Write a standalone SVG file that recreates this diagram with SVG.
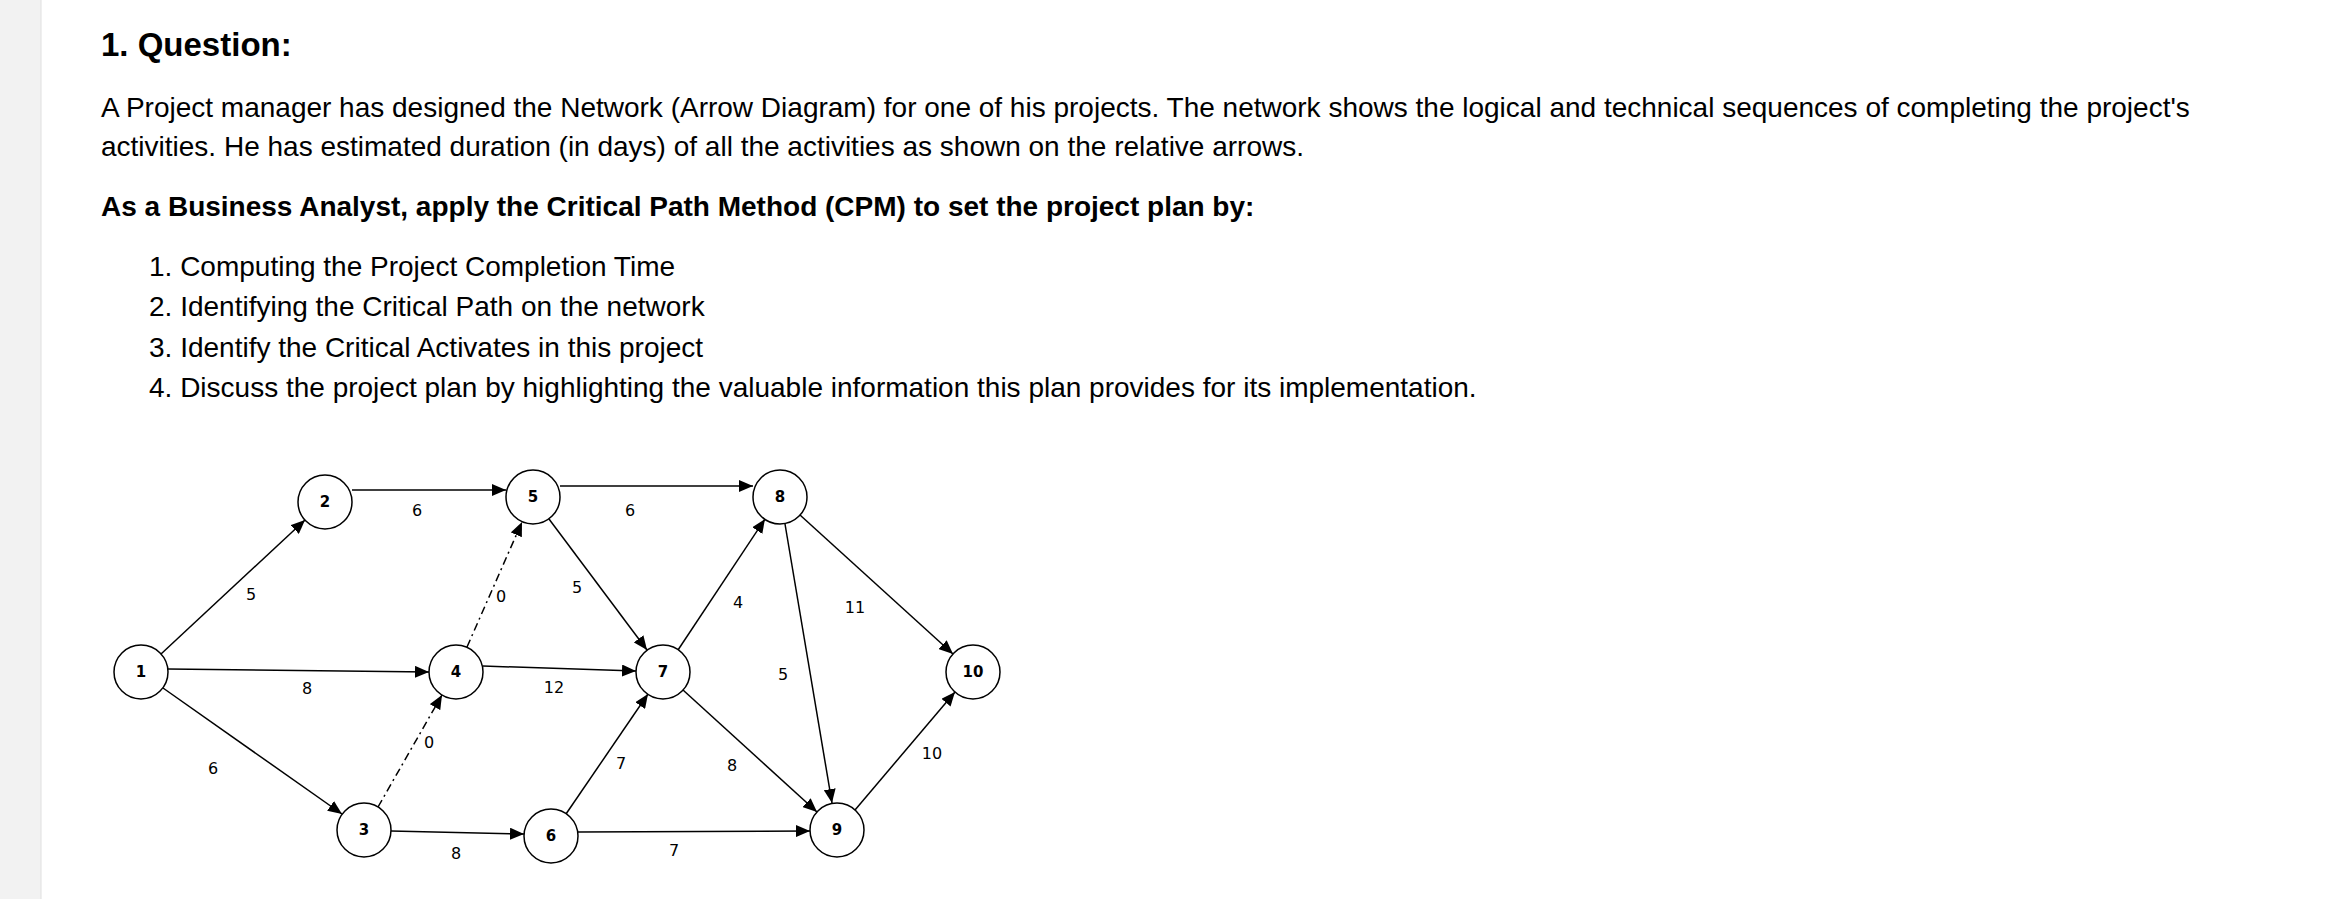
<svg xmlns="http://www.w3.org/2000/svg" width="2336" height="899" viewBox="0 0 2336 899">
<defs>
<marker id="ah" markerUnits="userSpaceOnUse" markerWidth="14" markerHeight="12" refX="14" refY="6" orient="auto"><path d="M0,0 L14,6 L0,12 Z" fill="#000"/></marker>
<style>
.t{font-family:"Liberation Sans",Arial,sans-serif;font-size:28px;fill:#000}
.b{font-weight:bold}
.n circle{fill:#fff;stroke:#000;stroke-width:1.5}
.n text{font-family:"DejaVu Sans",Verdana,sans-serif;font-size:15px;font-weight:bold;text-anchor:middle}
.e line{stroke:#000;stroke-width:1.5;marker-end:url(#ah)}
.e .d{stroke-dasharray:8 4 2 4}
.l{font-family:"DejaVu Sans",Verdana,sans-serif;font-size:16px;text-anchor:middle;fill:#000}
</style>
</defs>
<rect width="2336" height="899" fill="#fff"/>
<rect x="0" y="0" width="41" height="899" fill="#f2f2f2"/>
<line x1="41" y1="0" x2="41" y2="899" stroke="#e0e0e0"/>
<text class="t b" x="101" y="56" style="font-size:33px">1.  Question:</text>
<text class="t" x="101" y="117">A Project manager has designed the Network (Arrow Diagram) for one of his projects. The network shows the logical and technical sequences of completing the project's</text>
<text class="t" x="101" y="156">activities. He has estimated duration (in days) of all the activities as shown on the relative arrows.</text>
<text class="t b" x="101" y="216">As a Business Analyst, apply the Critical Path Method (CPM) to set the project plan by:</text>
<text class="t" x="149" y="276">1. Computing the Project Completion Time</text>
<text class="t" x="149" y="316">2. Identifying the Critical Path on the network</text>
<text class="t" x="149" y="357">3. Identify the Critical Activates in this project</text>
<text class="t" x="149" y="397">4. Discuss the project plan by highlighting the valuable information this plan provides for its implementation.</text>
<g id="connectors" class="e">
<line x1="161" y1="654" x2="305" y2="520"/>
<line x1="352" y1="490" x2="506" y2="490"/>
<line x1="560" y1="486" x2="753" y2="486"/>
<line x1="168" y1="669" x2="429" y2="672"/>
<line class="d" x1="467" y1="647" x2="522" y2="522"/>
<line x1="549" y1="519" x2="647" y2="650"/>
<line x1="483" y1="666" x2="636" y2="671"/>
<line x1="678" y1="650" x2="765" y2="519"/>
<line x1="800" y1="515" x2="953" y2="654"/>
<line x1="785" y1="524" x2="832" y2="803"/>
<line x1="163" y1="688" x2="342" y2="814"/>
<line class="d" x1="378" y1="807" x2="442" y2="695"/>
<line x1="391" y1="831" x2="524" y2="834"/>
<line x1="566" y1="814" x2="648" y2="694"/>
<line x1="578" y1="832" x2="810" y2="831"/>
<line x1="683" y1="690" x2="817" y2="812"/>
<line x1="855" y1="810" x2="955" y2="692"/>
</g>
<g id="labels">
<text class="l" x="251" y="600">5</text>
<text class="l" x="417" y="516">6</text>
<text class="l" x="630" y="516">6</text>
<text class="l" x="501" y="602">0</text>
<text class="l" x="577" y="593">5</text>
<text class="l" x="738" y="608">4</text>
<text class="l" x="855" y="613">11</text>
<text class="l" x="307" y="694">8</text>
<text class="l" x="554" y="693">12</text>
<text class="l" x="783" y="680">5</text>
<text class="l" x="429" y="748">0</text>
<text class="l" x="213" y="774">6</text>
<text class="l" x="621" y="769">7</text>
<text class="l" x="732" y="771">8</text>
<text class="l" x="932" y="759">10</text>
<text class="l" x="456" y="859">8</text>
<text class="l" x="674" y="856">7</text>
</g>
<g id="node1" class="n"><circle cx="141" cy="672" r="27"/><text x="141" y="677">1</text></g>
<g id="node2" class="n"><circle cx="325" cy="502" r="27"/><text x="325" y="507">2</text></g>
<g id="node3" class="n"><circle cx="364" cy="830" r="27"/><text x="364" y="835">3</text></g>
<g id="node4" class="n"><circle cx="456" cy="672" r="27"/><text x="456" y="677">4</text></g>
<g id="node5" class="n"><circle cx="533" cy="497" r="27"/><text x="533" y="502">5</text></g>
<g id="node6" class="n"><circle cx="551" cy="836" r="27"/><text x="551" y="841">6</text></g>
<g id="node7" class="n"><circle cx="663" cy="672" r="27"/><text x="663" y="677">7</text></g>
<g id="node8" class="n"><circle cx="780" cy="497" r="27"/><text x="780" y="502">8</text></g>
<g id="node9" class="n"><circle cx="837" cy="830" r="27"/><text x="837" y="835">9</text></g>
<g id="node10" class="n"><circle cx="973" cy="672" r="27"/><text x="973" y="677">10</text></g>
</svg>
